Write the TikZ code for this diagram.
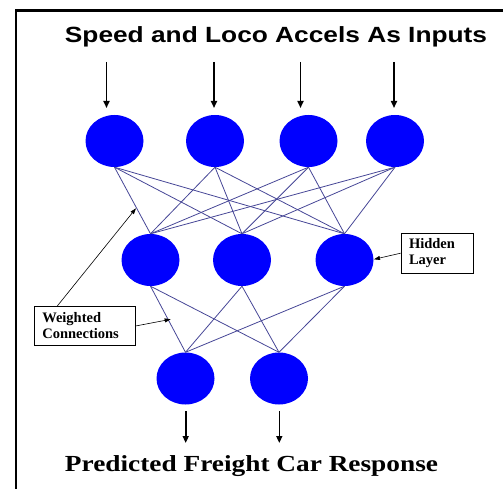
\documentclass[tikz,border=0pt]{standalone}
\usepackage{fontspec}
\setmainfont{Liberation Serif}
\newfontfamily\titlefont{Liberation Sans}
\usetikzlibrary{shapes.geometric,arrows.meta}
\definecolor{nblue}{RGB}{0,0,255}
\definecolor{cblue}{RGB}{70,70,150}
\begin{document}
\begin{tikzpicture}[x=1pt,y=-1pt,
  neuron/.style={ellipse, fill=nblue, draw=none, minimum width=58pt, minimum height=52pt, inner sep=0pt},
  conn/.style={draw=cblue, line width=0.8pt},
  io/.style={-{Triangle[length=7pt,width=6pt]}, line width=1.6pt},
  callout/.style={-{Triangle[length=6pt,width=4pt]}, line width=0.6pt},
  note/.style={draw, line width=0.9pt, align=left, font=\bfseries\fontsize{14.5}{16}\selectfont, inner xsep=8pt, inner ysep=0pt, minimum height=39.7pt, anchor=center}]
\useasboundingbox (0,0) rectangle (503,489);
% frame
\draw[line width=2.6pt] (15.8,489) -- (15.8,10.5) -- (503,10.5);
% titles
\node[anchor=base, inner sep=0pt, font=\titlefont\bfseries\fontsize{22}{24}\selectfont] (title) at (276,42.5) {\scalebox{1.195}[1]{Speed and Loco Accels As Inputs}};
\node[anchor=base, inner sep=0pt, font=\bfseries\fontsize{23}{26}\selectfont] (result) at (251.5,471.7) {\scalebox{1.188}[1]{Predicted Freight Car Response}};
% neurons
\node[neuron] (i1) at (114.5,141) {};
\node[neuron] (i2) at (215,141) {};
\node[neuron] (i3) at (308.5,141) {};
\node[neuron] (i4) at (395,141) {};
\node[neuron] (h1) at (150.5,260) {};
\node[neuron] (h2) at (242,260) {};
\node[neuron] (h3) at (344.5,260) {};
\node[neuron] (o1) at (185.5,378.5) {};
\node[neuron] (o2) at (279,378.5) {};
% connections
\foreach \i in {i1,i2,i3,i4}
  \foreach \h in {h1,h2,h3}
    \draw[conn] (\i.south) -- (\h.north);
\foreach \h in {h1,h2,h3}
  \foreach \o in {o1,o2}
    \draw[conn] (\h.south) -- (\o.north);
% input arrows
\coordinate (a1) at (106.5,62);
\coordinate (a2) at (214,62);
\coordinate (a3) at (300.5,62);
\coordinate (a4) at (394,62);
\coordinate (t1) at (106.5,108);
\coordinate (t2) at (214,108);
\coordinate (t3) at (300.5,108);
\coordinate (t4) at (394,108);
\foreach \k in {1,2,3,4} \draw[io] (a\k) -- (t\k);
% output arrows
\coordinate (b1) at (185.7,411);
\coordinate (b2) at (279.3,411);
\coordinate (c1) at (185.7,443);
\coordinate (c2) at (279.3,443);
\foreach \k in {1,2} \draw[io] (b\k) -- (c\k);
% notes
\node[note, minimum width=72.3pt, text width=56.3pt] (hl) at (437.2,253.2) {Hidden\\Layer};
\node[note, minimum width=101.4pt, text width=85.4pt] (wc) at (85,325.9) {Weighted\\Connections};
\coordinate (hltip) at (374,259.3);
\draw[callout] (hl.west) -- (hltip);
\coordinate (wcstart) at (57.3,306);
\coordinate (wctip1) at (136,208.3);
\coordinate (wctip2) at (170.7,319.3);
\draw[callout] (wcstart) -- (wctip1);
\draw[callout] (wc.east) -- (wctip2);
\end{tikzpicture}
\end{document}
